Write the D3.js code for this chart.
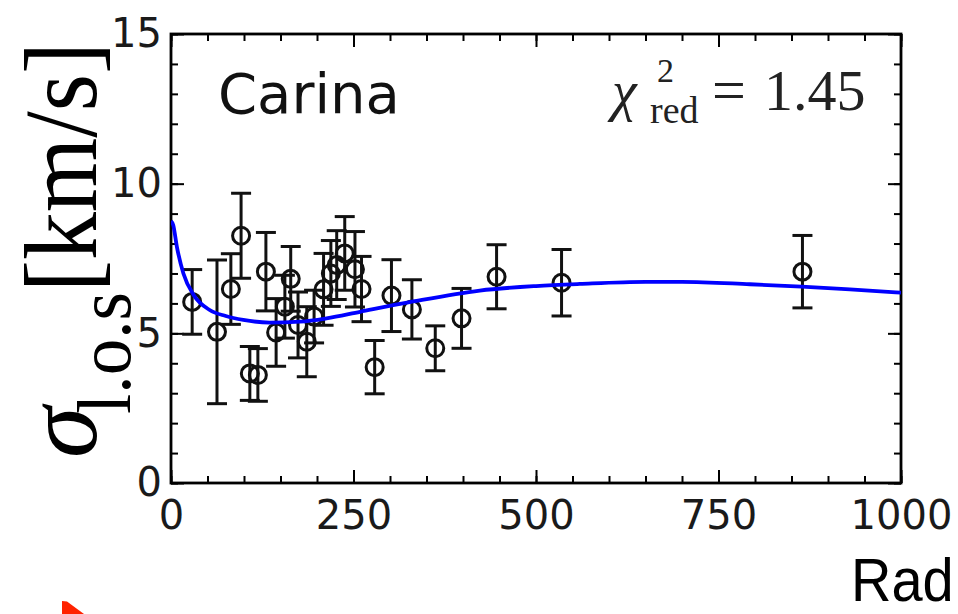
<!DOCTYPE html>
<html>
<head>
<meta charset="utf-8">
<script src="https://cdn.jsdelivr.net/npm/d3@7/dist/d3.min.js"></script>
<style>
  html, body { margin: 0; padding: 0; background: #fff; }
  svg { display: block; }
</style>
</head>
<body>
<svg id="chart" width="958" height="614"></svg>
<script>
// Carina: line-of-sight velocity dispersion profile with model fit

// Binned dispersion measurements: radius [pc], sigma [km/s], 1-sigma error
const radius = [29, 63, 82, 96, 108, 119, 130, 144, 156, 164, 174, 186, 196, 209, 219, 227, 238, 252, 261, 279, 302, 330, 362, 398, 446, 535, 865];
const sigma  = [6.05, 5.05, 6.48, 8.26, 3.66, 3.61, 7.06, 5.03, 5.89, 6.82, 5.28, 4.72, 5.56, 6.47, 7.00, 7.28, 7.67, 7.14, 6.48, 3.87, 6.26, 5.80, 4.50, 5.50, 6.89, 6.69, 7.06];
const sigmaErr = [1.08, 2.40, 1.18, 1.42, 0.90, 0.88, 1.31, 1.13, 1.05, 1.08, 1.10, 1.17, 0.88, 1.20, 1.10, 1.15, 1.23, 1.26, 1.09, 0.89, 1.20, 0.99, 0.75, 1.00, 1.07, 1.11, 1.21];

// Best-fit model curve
const modelR     = [0, 3, 8, 17, 31, 53, 75, 99, 135, 177, 213, 259, 327, 423, 500, 560, 650, 700, 793, 864, 930, 1000];
const modelSigma = [8.75, 8.62, 7.90, 7.00, 6.28, 5.78, 5.58, 5.45, 5.36, 5.39, 5.50, 5.72, 6.04, 6.43, 6.58, 6.65, 6.72, 6.72, 6.64, 6.56, 6.47, 6.36];

// Axis ticks and labels
const xTicks = [0, 250, 500, 750, 1000];
const yTicks = [0, 5, 10, 15];
const xMinorTicks = d3.range(0, 1001, 50);
const yMinorTicks = d3.range(0, 16, 1);

const galaxyName = "Carina";
const chiValue = "1.45";

const svg = d3.select("#chart");
const plot = { left: 171, right: 901, top: 34, bottom: 483 };

const x = d3.scaleLinear().domain([0, 1000]).range([plot.left, plot.right]);
const y = d3.scaleLinear().domain([0, 15]).range([plot.bottom, plot.top]);

const tickFont = "'DejaVu Sans', sans-serif";
const serif = "'Liberation Serif', 'Times New Roman', serif";

// clip region for the data
svg.append("defs").append("clipPath").attr("id", "plotClip")
  .append("rect")
  .attr("x", plot.left).attr("y", plot.top)
  .attr("width", plot.right - plot.left).attr("height", plot.bottom - plot.top);

// ---- axes (ticks point inward on all four sides) ----
function styleAxis(g) {
  g.select(".domain").remove();
  g.selectAll(".tick line").attr("stroke", "#000").attr("stroke-width", 2);
  g.selectAll(".tick text").attr("fill", "#1a1a1a")
    .attr("font-family", tickFont).attr("font-size", 40);
}

const majorLen = 13, minorLen = 7;

// bottom
svg.append("g").attr("transform", `translate(0,${plot.bottom})`)
  .call(d3.axisBottom(x).tickValues(xMinorTicks).tickSizeInner(-minorLen).tickSizeOuter(0).tickFormat(""))
  .call(styleAxis);
svg.append("g").attr("transform", `translate(0,${plot.bottom})`)
  .call(d3.axisBottom(x).tickValues(xTicks).tickSizeInner(-majorLen).tickSizeOuter(0).tickPadding(18).tickFormat(d3.format("d")))
  .call(styleAxis);
// top
svg.append("g").attr("transform", `translate(0,${plot.top})`)
  .call(d3.axisTop(x).tickValues(xMinorTicks).tickSizeInner(-minorLen).tickSizeOuter(0).tickFormat(""))
  .call(styleAxis);
svg.append("g").attr("transform", `translate(0,${plot.top})`)
  .call(d3.axisTop(x).tickValues(xTicks).tickSizeInner(-majorLen).tickSizeOuter(0).tickFormat(""))
  .call(styleAxis);
// left
svg.append("g").attr("transform", `translate(${plot.left},0)`)
  .call(d3.axisLeft(y).tickValues(yMinorTicks).tickSizeInner(-minorLen).tickSizeOuter(0).tickFormat(""))
  .call(styleAxis);
svg.append("g").attr("transform", `translate(${plot.left},0)`)
  .call(d3.axisLeft(y).tickValues(yTicks).tickSizeInner(-majorLen).tickSizeOuter(0).tickPadding(9).tickFormat(d3.format("d")))
  .call(styleAxis);
// right
svg.append("g").attr("transform", `translate(${plot.right},0)`)
  .call(d3.axisRight(y).tickValues(yMinorTicks).tickSizeInner(-minorLen).tickSizeOuter(0).tickFormat(""))
  .call(styleAxis);
svg.append("g").attr("transform", `translate(${plot.right},0)`)
  .call(d3.axisRight(y).tickValues(yTicks).tickSizeInner(-majorLen).tickSizeOuter(0).tickFormat(""))
  .call(styleAxis);

// frame
svg.append("rect")
  .attr("x", plot.left).attr("y", plot.top)
  .attr("width", plot.right - plot.left).attr("height", plot.bottom - plot.top)
  .attr("fill", "none").attr("stroke", "#000").attr("stroke-width", 2.8);

// ---- data points with error bars ----
const pts = radius.map((r, i) => ({ r, s: sigma[i], e: sigmaErr[i] }));
const dataG = svg.append("g").attr("clip-path", "url(#plotClip)")
  .attr("stroke", "#111").attr("stroke-width", 3).attr("fill", "none");
const capHalf = 10;
const bars = dataG.selectAll("g.pt").data(pts).join("g").attr("class", "pt");
bars.append("line")
  .attr("x1", d => x(d.r)).attr("x2", d => x(d.r))
  .attr("y1", d => y(d.s + d.e)).attr("y2", d => y(d.s - d.e));
bars.append("line")
  .attr("x1", d => x(d.r) - capHalf).attr("x2", d => x(d.r) + capHalf)
  .attr("y1", d => y(d.s + d.e)).attr("y2", d => y(d.s + d.e));
bars.append("line")
  .attr("x1", d => x(d.r) - capHalf).attr("x2", d => x(d.r) + capHalf)
  .attr("y1", d => y(d.s - d.e)).attr("y2", d => y(d.s - d.e));
bars.append("circle")
  .attr("cx", d => x(d.r)).attr("cy", d => y(d.s)).attr("r", 8.5);

// ---- model curve ----
const model = modelR.map((r, i) => [r, modelSigma[i]]);
svg.append("path")
  .datum(model)
  .attr("clip-path", "url(#plotClip)")
  .attr("fill", "none").attr("stroke", "#0000ff").attr("stroke-width", 3.8)
  .attr("d", d3.line().x(d => x(d[0])).y(d => y(d[1])).curve(d3.curveMonotoneX));

// ---- annotations ----
svg.append("text")
  .attr("x", 218).attr("y", 113)
  .attr("font-family", tickFont).attr("font-size", 56).attr("fill", "#111")
  .text(galaxyName);

// reduced chi-square of the fit
const chi = svg.append("text").attr("font-family", serif).attr("fill", "#222");
chi.append("tspan").attr("x", 612).attr("y", 110).attr("font-size", 56).attr("font-style", "italic").text("χ");
chi.append("tspan").attr("x", 657).attr("y", 81.5).attr("font-size", 34).text("2");
chi.append("tspan").attr("x", 650).attr("y", 123).attr("font-size", 38).text("red");
chi.append("tspan").attr("x", 712).attr("y", 110).attr("font-size", 60).text("=");
chi.append("tspan").attr("x", 764).attr("y", 110).attr("font-size", 58).text(chiValue);

// y-axis title, reading bottom to top
const yTitle = svg.append("text")
  .attr("transform", "translate(96,458) rotate(-90)")
  .attr("font-family", serif).attr("fill", "#000");
yTitle.append("tspan").attr("x", 0).attr("font-size", 104).attr("font-style", "italic").text("σ");
yTitle.append("tspan").attr("x", 44).attr("dy", 34).attr("font-size", 76)
  .attr("textLength", 122).attr("lengthAdjust", "spacingAndGlyphs").text("l.o.s");
yTitle.append("tspan").attr("x", 166).attr("dy", -34).attr("font-size", 104)
  .attr("textLength", 250).attr("lengthAdjust", "spacingAndGlyphs").text("[km/s]");

// x-axis title at the lower right
svg.append("text")
  .attr("transform", "translate(851,600.5) scale(1,1.1)")
  .attr("font-family", "'Liberation Sans', Arial, sans-serif").attr("font-size", 56).attr("fill", "#000")
  .text("Rad");

// red marker in the lower-left corner
svg.append("path")
  .attr("d", "M62,601 L67,601.5 L84,614 L62,614 Z")
  .attr("fill", "#ff2200");
</script>
</body>
</html>
